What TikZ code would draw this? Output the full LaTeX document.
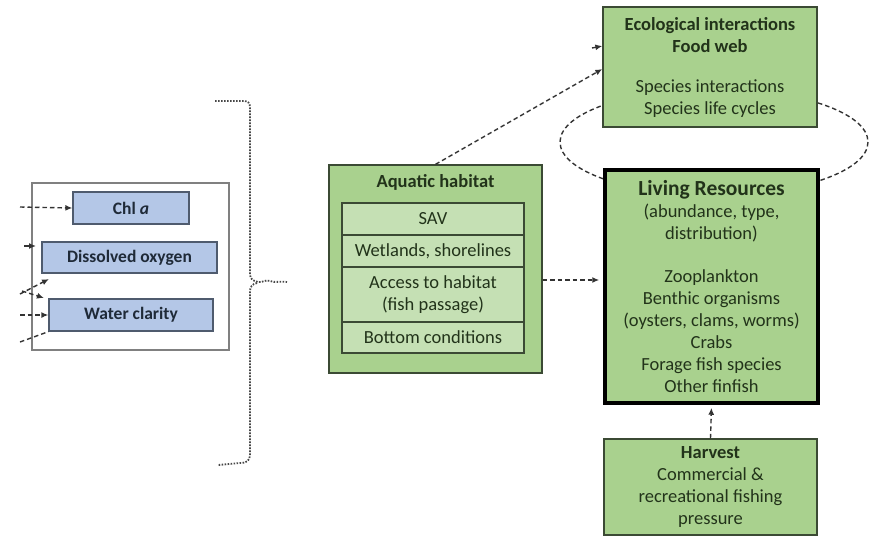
\documentclass[tikz,border=0pt]{standalone}
\usepackage{fontspec}
\setmainfont{Carlito}
\usetikzlibrary{arrows.meta}
\definecolor{leaf}{HTML}{A9D18E}
\definecolor{leaflight}{HTML}{C5E0B4}
\definecolor{leafedge}{HTML}{3B4A34}
\definecolor{leaftext}{HTML}{22331A}
\definecolor{sky}{HTML}{B4C7E7}
\definecolor{skyedge}{HTML}{4F5B6E}
\definecolor{skytext}{HTML}{1F2A38}
\definecolor{frameedge}{HTML}{808080}
\definecolor{ink}{HTML}{333333}
\begin{document}
\begin{tikzpicture}[x=1pt,y=-1pt,
  greenbox/.style={draw=leafedge, fill=leaf, line width=1.3pt, text=leaftext,
    align=center, inner sep=0pt, font=\fontsize{18.5}{22}\selectfont},
  rowbox/.style={draw=leafedge, fill=leaflight, line width=1.3pt, text=leaftext,
    align=center, inner sep=0pt, minimum width=182pt, font=\fontsize{18.5}{22}\selectfont},
  bluebox/.style={draw=skyedge, fill=sky, line width=1.3pt, text=skytext,
    inner sep=0pt, font=\bfseries\fontsize{17.5}{20}\selectfont},
  link/.style={draw=ink, line width=1.4pt, dash pattern=on 4.5pt off 3pt},
  tip/.style={-{Latex[length=7pt,width=6pt]}},
  brace/.style={draw=ink!90, line width=1.8pt, dash pattern=on 1.6pt off 1.4pt}
]
\useasboundingbox (0,0) rectangle (870,539);

% dashed loop between the two top-right boxes
\draw[link] (714,142) ellipse [x radius=154, y radius=53];

% left panel: water-quality indicators
\node[draw=frameedge, fill=white, line width=1.5pt, minimum width=197pt, minimum height=167pt] (frame) at (130.5,266.5) {};
\node[bluebox, minimum width=116pt, minimum height=32pt] (chl) at (131,208) {Chl \textit{a}};
\node[bluebox, minimum width=175pt, minimum height=31pt] (do) at (129.5,257.5) {Dissolved oxygen};
\node[bluebox, minimum width=164pt, minimum height=32pt] (wc) at (131,315) {Water clarity};

% incoming links from the left edge
\coordinate (in1) at (20,207);
\coordinate (in2) at (24,246);
\coordinate (in2e) at (36,246);
\coordinate (in3) at (20,294);
\coordinate (in3e) at (49,279);
\coordinate (in4) at (22,291);
\coordinate (in4e) at (44,298);
\coordinate (in5) at (20,315);
\coordinate (in6) at (20,342);
\draw[link,tip] (in1) -- (chl.west);
\draw[link,tip] (in2) -- (in2e);
\draw[link,tip] (in3) -- (in3e);
\draw[link,tip] (in4) -- (in4e);
\draw[link,tip] (in5) -- (wc.west);
\draw[link] (in6) -- (wc.south west);

% dotted curly brace
\draw[brace] (215,101) -- (244,101) .. controls (248,101) and (250,103) .. (250,108)
  -- (250,274) .. controls (250,279) and (253,281) .. (258,282)
  .. controls (263,283) and (265,279) .. (270,281)
  .. controls (275,283) and (279,281) .. (287,282);
\draw[brace] (257,283) .. controls (252,284) and (250,287) .. (250,292)
  -- (250,455) .. controls (250,461) and (246,463) .. (240,463) -- (218,465);

% aquatic habitat
\node[greenbox, minimum width=213pt, minimum height=208pt] (aq) at (435.5,269) {};
\node[text=leaftext, font=\bfseries\fontsize{18.5}{22}\selectfont] (aqtitle) at (435.5,182) {Aquatic habitat};
\node[rowbox, minimum height=32pt] (sav) at (433,219) {SAV};
\node[rowbox, minimum height=32pt] (wet) at (433,251) {Wetlands, shorelines};
\node[rowbox, minimum height=55pt] (acc) at (433,294.5) {Access to habitat\\(fish passage)};
\node[rowbox, minimum height=31pt] (bot) at (433,337.5) {Bottom conditions};

% ecological interactions
\node[greenbox, minimum width=214pt, minimum height=120pt] (eco) at (710,67)
  {\textbf{Ecological interactions}\\\textbf{Food web}\\[18pt]Species interactions\\Species life cycles};

% living resources
\node[greenbox, draw=black, line width=3.5pt, minimum width=213pt, minimum height=233pt] (liv) at (711.5,286.5)
  {{\bfseries\fontsize{21.5}{22}\selectfont Living Resources}\\(abundance, type,\\distribution)\\[21pt]Zooplankton\\Benthic organisms\\(oysters, clams, worms)\\Crabs\\Forage fish species\\Other finfish};

% harvest
\node[greenbox, minimum width=213pt, minimum height=96pt] (harv) at (710.5,487)
  {\textbf{Harvest}\\Commercial \&\\recreational fishing\\pressure};

% links between the right-hand boxes
\coordinate (stub) at (592,48);
\draw[link,tip] (aq.north) -- ([yshift=-2pt]eco.west);
\draw[link,tip] (stub) -- ([yshift=21pt]eco.west);
\draw[link,tip,shorten >=4pt] ([yshift=-11pt]aq.east) -- ([yshift=6.5pt]liv.west);
\draw[link,tip,shorten >=3pt] (harv.north) -- (liv.south);
\end{tikzpicture}
\end{document}
